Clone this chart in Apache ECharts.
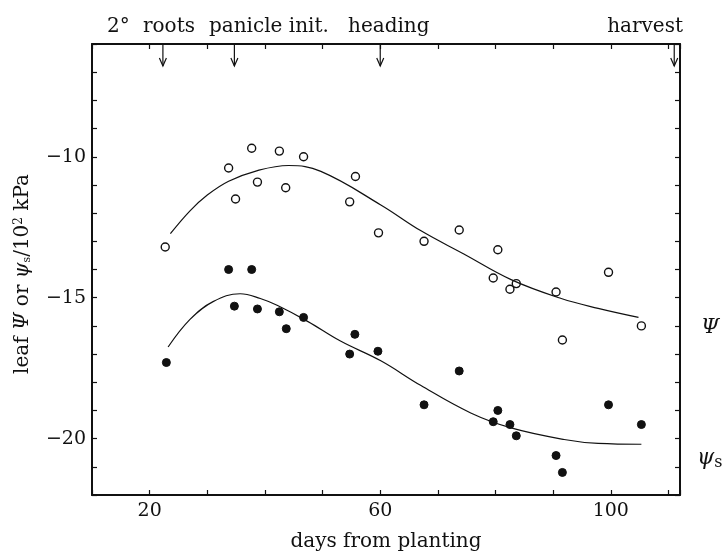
<!DOCTYPE html>
<html><head><meta charset="utf-8">
<script src="https://cdn.jsdelivr.net/npm/echarts@6/dist/echarts.min.js"></script>
<style>html,body{margin:0;padding:0;background:#fff}#c{width:724px;height:557px}</style>
</head><body><div id="c"></div>
<script>
// Open circles: leaf water potential Ψ
const psiDays = [22.7,33.7,34.9,37.7,38.7,42.5,43.6,46.7,54.7,55.7,59.7,67.6,73.7,79.6,80.4,82.5,83.6,90.5,91.6,99.6,105.3];
const psiVals = [-13.2,-10.4,-11.5,-9.7,-10.9,-9.8,-11.1,-10.0,-11.6,-10.7,-12.7,-13.0,-12.6,-14.3,-13.3,-14.7,-14.5,-14.8,-16.5,-14.1,-16.0];
// Filled circles: osmotic potential ψs
const psisDays = [22.9,33.7,34.7,37.7,38.7,42.5,43.7,46.7,54.7,55.6,59.6,67.6,73.7,79.6,80.4,82.5,83.6,90.5,91.6,99.6,105.3];
const psisVals = [-17.3,-14.0,-15.3,-14.0,-15.4,-15.5,-16.1,-15.7,-17.0,-16.3,-16.9,-18.8,-17.6,-19.4,-19.0,-19.5,-19.9,-20.6,-21.2,-18.8,-19.5];
// Fitted curves
const psiCurveDays = [23.6,27.0,30.0,33.7,38.7,44.1,49.7,60.1,67.0,74.5,82.7,91.4,97.8,104.8];
const psiCurveVals = [-12.73,-11.92,-11.36,-10.87,-10.49,-10.31,-10.52,-11.71,-12.62,-13.45,-14.36,-15.03,-15.38,-15.7];
const psisCurveDays = [23.2,27.0,31.0,35.7,39.2,42.2,47.4,53.1,60.1,67.0,75.7,82.7,91.9,97.8,105.3];
const psisCurveVals = [-16.75,-15.77,-15.14,-14.86,-15.03,-15.28,-15.84,-16.54,-17.24,-18.11,-19.09,-19.62,-20.03,-20.17,-20.2];
// Events
const eventDays = [22.3,34.7,60,111];
const eventLabels = ['2°','roots','panicle init.','heading','harvest'];
// Tick labels
const xTickLabels = [20,60,100];
const yTickLabels = [-10,-15,-20];

const zip = (a,b) => a.map((v,i)=>[v,b[i]]);
const F = 'DejaVu Serif';
const ink = '#111';
const chart = echarts.init(document.getElementById('c'));
const axisCommon = {
  type:'value', splitLine:{show:false},
  axisLine:{show:true, lineStyle:{color:ink, width:2}},
  axisTick:{show:true, inside:true, length:5, lineStyle:{color:ink, width:1.2}}
};
const font = (s, st) => (st ? st + ' ' : '') + s + 'px "' + F + '"';
chart.setOption({
  animation:false,
  backgroundColor:'#fff',
  grid:{left:92, right:44, top:44, bottom:57},
  xAxis:[
    Object.assign({}, axisCommon, {position:'bottom', min:10, max:112, interval:10,
      axisLabel:{formatter:v=>xTickLabels.includes(v)?String(v):'', color:ink, fontFamily:F, fontSize:19, margin:7},
      name:'days from planting', nameLocation:'middle', nameGap:37,
      nameTextStyle:{color:ink, fontFamily:F, fontSize:20}}),
    Object.assign({}, axisCommon, {position:'top', min:10, max:112, interval:10, axisLabel:{show:false}})
  ],
  yAxis:[
    Object.assign({}, axisCommon, {position:'left', min:-22, max:-6, interval:1,
      axisLabel:{formatter:v=>yTickLabels.includes(v)?'\u2212'+Math.abs(v):'', color:ink, fontFamily:F, fontSize:19, margin:6}}),
    Object.assign({}, axisCommon, {position:'right', min:-22, max:-6, interval:1, axisLabel:{show:false}})
  ],
  series:[
    {type:'line', data:zip(psiCurveDays, psiCurveVals), smooth:0.4, symbol:'none', lineStyle:{color:ink, width:1.2}},
    {type:'line', data:zip(psisCurveDays, psisCurveVals), smooth:0.4, symbol:'none', lineStyle:{color:ink, width:1.2}},
    {type:'scatter', data:zip(psiDays, psiVals), symbol:'circle', symbolSize:8,
      itemStyle:{color:'#fff', borderColor:ink, borderWidth:1.4, opacity:1}},
    {type:'scatter', data:zip(psisDays, psisVals), symbol:'circle', symbolSize:8,
      itemStyle:{color:ink, borderColor:ink, borderWidth:1, opacity:1}},
    {type:'custom', data:eventDays.map(d=>[d,-6]), clip:false, z:5,
      renderItem:(params, api)=>{
        const p = api.coord([api.value(0), -6]);
        const len = 22;
        return {type:'group', children:[
          {type:'line', shape:{x1:p[0], y1:p[1], x2:p[0], y2:p[1]+len}, style:{stroke:ink, lineWidth:1.2}},
          {type:'polyline', shape:{points:[[p[0]-3.5,p[1]+len-8],[p[0],p[1]+len],[p[0]+3.5,p[1]+len-8]]}, style:{stroke:ink, fill:null, lineWidth:1.2}}
        ]};
      }}
  ],
  graphic:[
    {type:'text', left:107, top:17, style:{text:eventLabels[0], font:font(20), fill:ink}},
    {type:'text', left:143, top:17, style:{text:eventLabels[1], font:font(20), fill:ink}},
    {type:'text', left:209, top:17, style:{text:eventLabels[2], font:font(20), fill:ink}},
    {type:'text', left:348, top:17, style:{text:eventLabels[3], font:font(20), fill:ink}},
    {type:'text', right:41, top:17, style:{text:eventLabels[4], font:font(20), fill:ink}},
    {type:'text', x:701, y:328, style:{text:'Ψ', font:font(21,'italic'), fill:ink, textVerticalAlign:'middle'}},
    {type:'text', x:697, y:458, style:{text:'{a|ψ}{b|s}', fill:ink, textVerticalAlign:'middle',
      rich:{a:{font:font(22,'italic'), fill:ink}, b:{font:font(16), fill:ink, padding:[10,0,0,0]}}}},
    {type:'text', x:23, y:274, rotation:Math.PI/2, style:{
      text:'{n|leaf }{i|Ψ}{n| or }{i|ψ}{sub|s}{n|/10}{sup|2}{n| kPa}', textAlign:'center', textVerticalAlign:'middle', fill:ink,
      rich:{n:{font:font(20), fill:ink}, i:{font:font(20,'italic'), fill:ink},
            sub:{font:font(11), fill:ink, padding:[8,0,0,0]}, sup:{font:font(12), fill:ink, padding:[0,0,8,0]}}}}
  ]
});
</script></body></html>
